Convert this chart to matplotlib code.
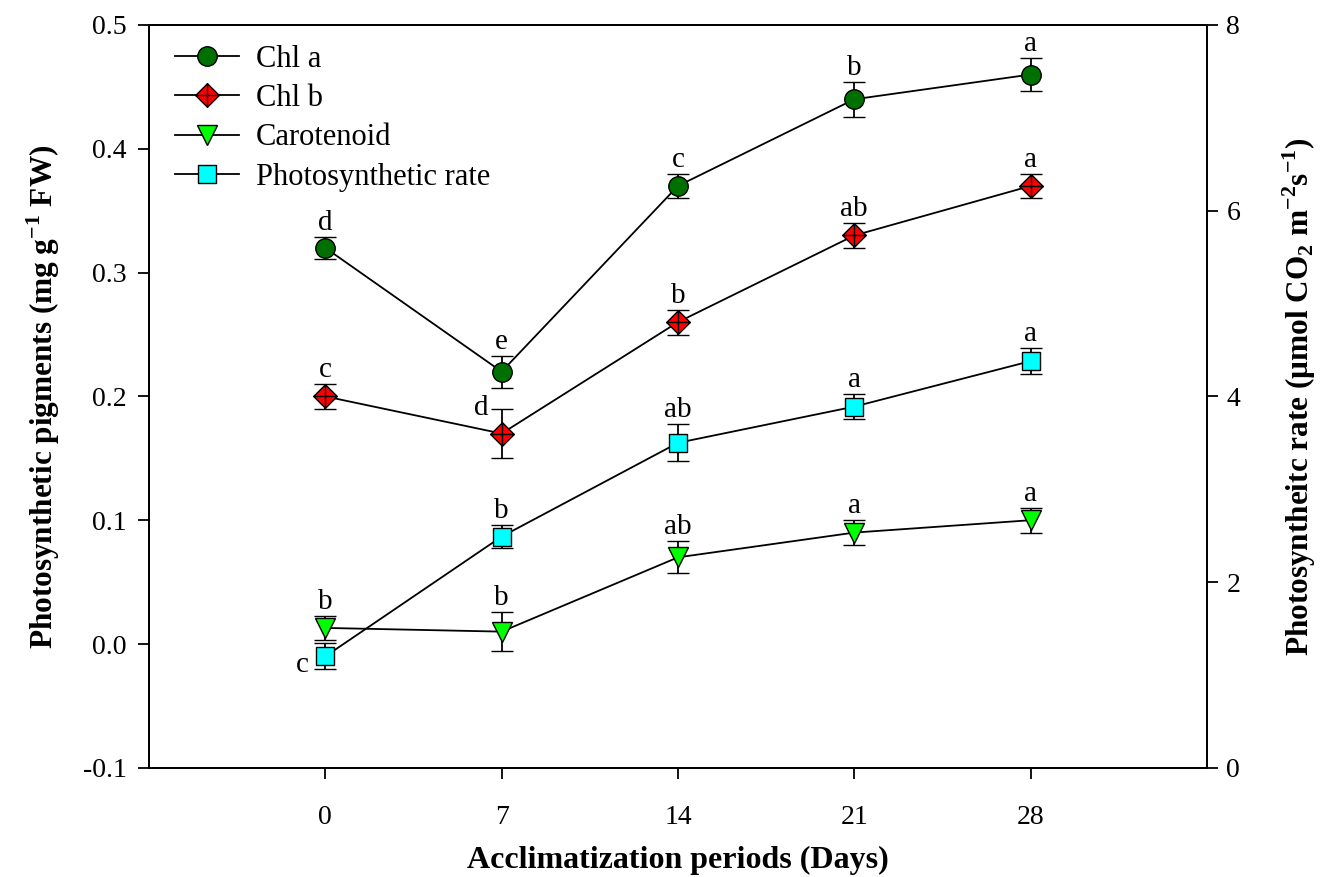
import matplotlib as mpl
mpl.use('Agg')
import matplotlib.pyplot as plt
from matplotlib.path import Path

plt.rcParams['font.family'] = ['Liberation Serif', 'DejaVu Serif']
plt.rcParams['mathtext.fontset'] = 'custom'
plt.rcParams['mathtext.rm'] = 'Liberation Serif:bold'
plt.rcParams['mathtext.bf'] = 'Liberation Serif:bold'
plt.rcParams['axes.unicode_minus'] = False

days = [0, 7, 14, 21, 28]

chla = [0.32, 0.22, 0.37, 0.44, 0.46]
chla_err = [0.009, 0.013, 0.010, 0.014, 0.013]
chla_letters = ['d', 'e', 'c', 'b', 'a']

chlb = [0.20, 0.17, 0.26, 0.33, 0.37]
chlb_err = [0.010, 0.020, 0.010, 0.010, 0.010]
chlb_letters = ['c', 'd', 'b', 'ab', 'a']

carot = [0.013, 0.010, 0.070, 0.090, 0.100]
carot_err = [0.010, 0.016, 0.013, 0.010, 0.010]
carot_letters = ['b', 'b', 'ab', 'a', 'a']

rate = [1.20, 2.49, 3.50, 3.89, 4.38]
rate_err = [0.14, 0.12, 0.20, 0.135, 0.14]
rate_letters = ['c', 'b', 'ab', 'a', 'a']

# diamond with a cross inside, like the SigmaPlot symbol
diamond_cross = Path(
    [(0, 1), (1, 0), (0, -1), (-1, 0), (0, 1), (0, 1), (0, -1), (-1, 0), (1, 0)],
    [Path.MOVETO, Path.LINETO, Path.LINETO, Path.LINETO, Path.CLOSEPOLY,
     Path.MOVETO, Path.LINETO, Path.MOVETO, Path.LINETO])

fig = plt.figure(figsize=(13.3, 8.77), dpi=100)
ax = fig.add_axes([0.112, 0.1245, 0.7955, 0.847])
ax2 = ax.twinx()

eb_kw = dict(color='black', ecolor='black', lw=1.3, elinewidth=1.3,
             capsize=8, capthick=1.3, mec='black', mew=1.0)

e1 = ax.errorbar(days, chla, yerr=chla_err, marker='o', ms=14, mfc='#007000', **eb_kw)
e2 = ax.errorbar(days, chlb, yerr=chlb_err, marker=diamond_cross, ms=17, mfc='#ff0000', **eb_kw)
e3 = ax.errorbar(days, carot, yerr=carot_err, marker='v', ms=14, mfc='#00ff00', **eb_kw)
e4 = ax2.errorbar(days, rate, yerr=rate_err, marker='s', ms=13, mfc='#00ffff', **eb_kw)


def add_letters(a, ys, errs, letters, special=None):
    special = special or {}
    for i, (x, y, e, t) in enumerate(zip(days, ys, errs, letters)):
        if i in special:
            dx, dy = special[i]
            a.annotate(t, (x, y), xytext=(dx, dy), textcoords='offset pixels',
                       ha='center', va='center', fontsize=21)
        else:
            a.annotate(t, (x, y + e), xytext=(0, 1), textcoords='offset pixels',
                       ha='center', va='bottom', fontsize=21)


add_letters(ax, chla, chla_err, chla_letters)
add_letters(ax, chlb, chlb_err, chlb_letters, {1: (-20, 26)})
add_letters(ax, carot, carot_err, carot_letters)
add_letters(ax2, rate, rate_err, rate_letters, {0: (-23, -9)})

ax.set_xlim(-7, 35)
ax.set_ylim(-0.1, 0.5)
ax2.set_ylim(0, 8)
ax.set_xticks(days)
ax.set_yticks([-0.1, 0.0, 0.1, 0.2, 0.3, 0.4, 0.5])
ax.set_yticklabels(['-0.1', '0.0', '0.1', '0.2', '0.3', '0.4', '0.5'])
ax2.set_yticks([0, 2, 4, 6, 8])

for a in (ax, ax2):
    for s in a.spines.values():
        s.set_linewidth(1.3)
    a.tick_params(direction='out', length=8, width=1.3, labelsize=20)
ax.tick_params(axis='x', pad=19)
ax.tick_params(axis='y', pad=8)
ax2.tick_params(axis='y', pad=6)

ax.set_xlabel('Acclimatization periods (Days)', fontsize=23, fontweight='bold', labelpad=11)
ax.set_ylabel(r'Photosynthetic pigments (mg g$^{-1}$ FW)', fontsize=22.5,
              fontweight='bold', labelpad=15)
ax2.set_ylabel(r'Photosyntheitc rate (μmol CO$_2$ m$^{-2}$s$^{-1}$)', fontsize=22.5,
               fontweight='bold', labelpad=29)

handles = [e1[0], e2[0], e3[0], e4[0]]
labels = ['Chl a', 'Chl b', 'Carotenoid', 'Photosynthetic rate']
ax2.legend(handles, labels, loc='upper left', bbox_to_anchor=(0.013, 0.99),
           frameon=False, fontsize=22, handlelength=2.1, handletextpad=0.55,
           labelspacing=0.34, borderaxespad=0.0)

plt.savefig('out.png', dpi=100)
